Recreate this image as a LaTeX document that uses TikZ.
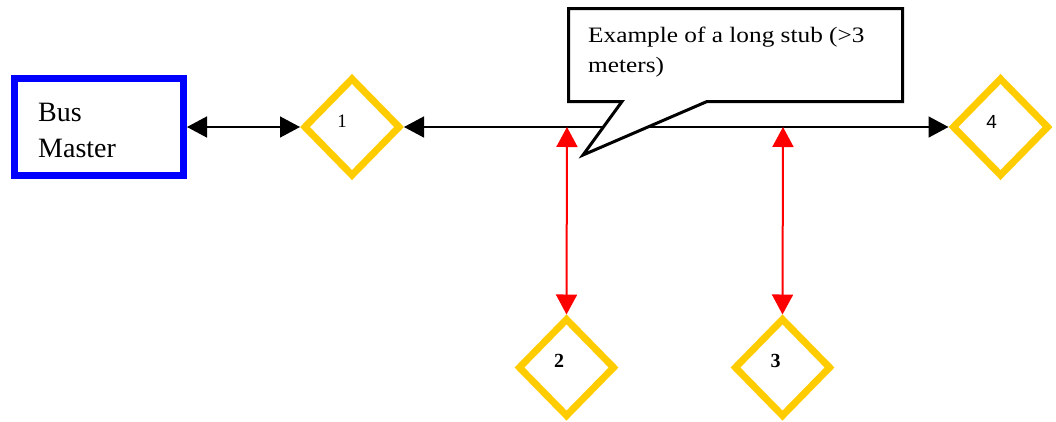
\documentclass[tikz,border=0pt]{standalone}
\usepackage{fontspec}
\setmainfont{Liberation Serif}
\newfontfamily\calloutfont[FakeStretch=1.15]{Liberation Serif}
\newfontfamily\arialfont{Liberation Sans}
\usetikzlibrary{arrows.meta,shapes.geometric}
\definecolor{busblue}{RGB}{0,0,255}
\definecolor{nodegold}{RGB}{255,204,0}
\definecolor{stubred}{RGB}{255,0,0}
\tikzset{
  busbox/.style={draw=busblue, line width=7pt, minimum width=169pt, minimum height=97pt, inner sep=0pt},
  slave/.style={diamond, draw=nodegold, line width=7pt, minimum width=97pt, minimum height=99pt, inner sep=0pt},
  buslink/.style={line width=1.5pt, draw=black, {Triangle[length=20pt,width=21pt]}-{Triangle[length=20pt,width=21pt]}},
  stublink/.style={line width=2pt, draw=stubred, color=stubred, {Triangle[length=20pt,width=21pt]}-{Triangle[length=20pt,width=21pt]}},
  numlabel/.style={inner sep=0pt, font=\fontsize{19}{19}\selectfont},
}
\begin{document}
\begin{tikzpicture}[x=1pt,y=-1pt]
\useasboundingbox (0,0) rectangle (1056,421);
% nodes
\node[busbox] (bm) at (99,127) {};
\node[anchor=base west, align=left, inner sep=0pt, font=\fontsize{28}{36}\selectfont] (bmt) at (38,157) {Bus\\Master};
\node[slave] (d1) at (352,127) {};
\node[slave] (d4) at (1000.5,127) {};
\node[slave] (d2) at (566.5,367.5) {};
\node[slave] (d3) at (782.5,367.5) {};
\node[numlabel] (l1) at (342,121.5) {1};
\node[numlabel, font=\fontsize{20}{20}\selectfont\bfseries] (l2) at (559,361) {2};
\node[numlabel, font=\fontsize{20}{20}\selectfont\bfseries] (l3) at (775.7,361) {3};
\node[numlabel, font=\arialfont\fontsize{19}{19}\selectfont] (l4) at (991.7,122) {4};
% junction points on the bus
\coordinate (j2) at (567,127);
\coordinate (j3) at (783,127);
% connectors
\draw[buslink] (bm.east) -- (d1.west);
\draw[buslink] (d1.east) -- (d4.west);
\draw[stublink] (j2) -- (d2.north);
\draw[stublink] (j3) -- (d3.north);
% callout
\draw[line width=3pt, fill=white, line join=miter] (568.5,8.5) -- (902.5,8.5) -- (902.5,101.5) -- (707,101.5) -- (583,155) -- (622,101.5) -- (568.5,101.5) -- cycle;
\node[anchor=base west, align=left, inner sep=0pt, font=\calloutfont\fontsize{22}{30}\selectfont] (ct) at (588,72) {Example of a long stub (>3\\meters)};
\end{tikzpicture}
\end{document}
